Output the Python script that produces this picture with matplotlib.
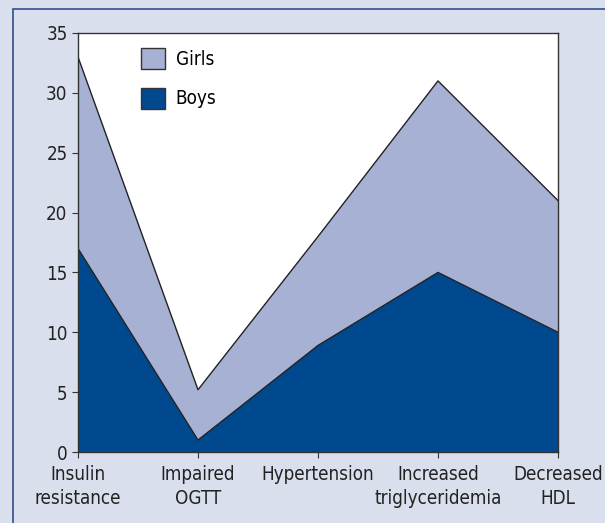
import matplotlib
matplotlib.use("Agg")
import matplotlib.pyplot as plt
from matplotlib.patches import Rectangle, Patch

# data
categories = ["Insulin\nresistance", "Impaired\nOGTT", "Hypertension", "Increased\ntriglyceridemia", "Decreased\nHDL"]
boys = [17, 1, 8.9, 15, 10]
girls = [16, 4.2, 9.1, 16, 11]

plt.rcParams["font.family"] = ["DejaVu Sans"]
plt.rcParams["font.stretch"] = "condensed"

bg = "#dadfed"
girls_col = "#a7b1d4"
boys_col = "#00498f"

fig = plt.figure(figsize=(6.05, 5.23), dpi=100, facecolor=bg)
# frame round the figure (only left and top edges show in the crop)
fig.patches.append(Rectangle((13 / 605, -0.1), 1, 1.1 - 9 / 523, transform=fig.transFigure,
                             facecolor="none", edgecolor="#2f4f8f", linewidth=1.2))

ax = fig.add_axes([78 / 605, 1 - 452 / 523, 480 / 605, 419 / 523])
ax.set_facecolor("white")

x = list(range(len(categories)))
ax.stackplot(x, boys, girls, colors=[boys_col, girls_col], edgecolor="none")
total = [b + g for b, g in zip(boys, girls)]
ax.plot(x, boys, color="#222222", linewidth=1)
ax.plot(x, total, color="#222222", linewidth=1)

ax.set_xlim(0, 4)
ax.set_ylim(0, 35)
ax.set_yticks(range(0, 36, 5))
ax.set_xticks(x)
ax.set_xticklabels(categories, fontsize=13.5, color="#222222", linespacing=1.35)
ax.tick_params(axis="y", labelsize=13.5, labelcolor="#222222", length=4, color="#333333")
ax.tick_params(axis="x", length=4, color="#333333", pad=5)
for s in ax.spines.values():
    s.set_color("#333333")
    s.set_linewidth(1)

handles = [Patch(facecolor=girls_col, edgecolor="#333333", label="Girls"),
           Patch(facecolor=boys_col, edgecolor="#333333", label="Boys")]
ax.legend(handles=handles, loc="upper left", bbox_to_anchor=(0.096, 1.005), frameon=False,
          fontsize=13.5, handlelength=1.3, handleheight=1.35, labelspacing=1.0, handletextpad=0.55)

fig.savefig("out.png", dpi=100, facecolor=bg)
